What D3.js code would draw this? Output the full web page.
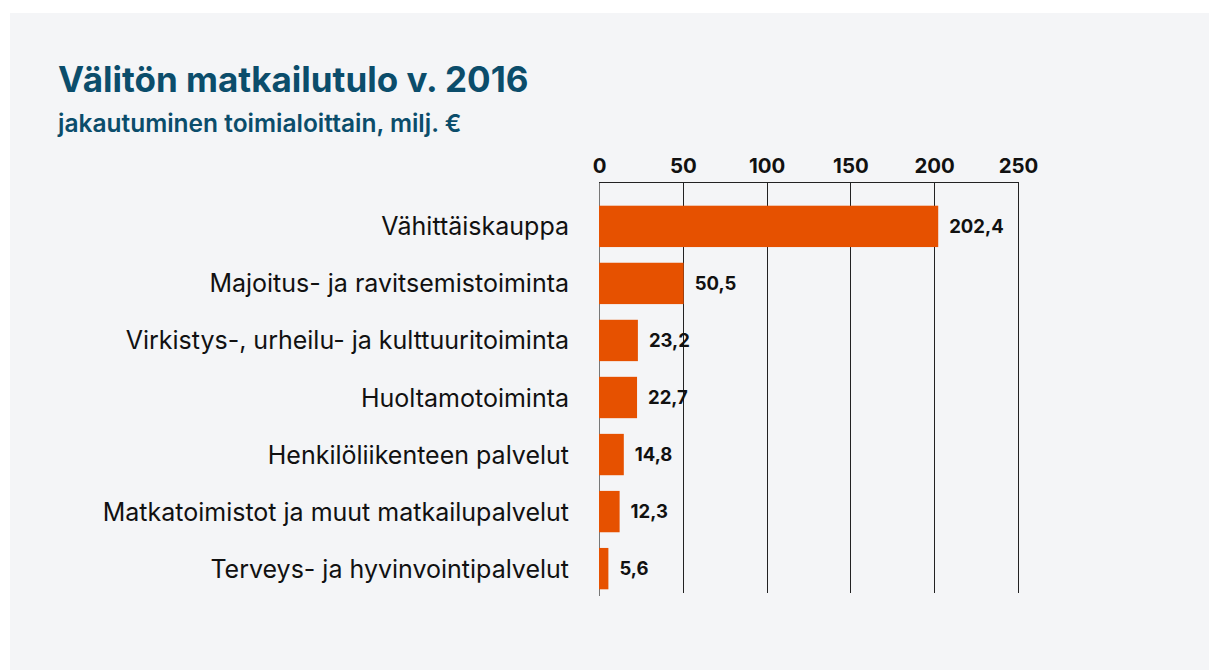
<!DOCTYPE html>
<html>
<head>
<meta charset="utf-8">
<script src="https://cdn.jsdelivr.net/npm/d3@7"></script>
<style>
  html, body { margin: 0; padding: 0; background: #ffffff; }
  svg { display: block; }
  text { font-family: Inter, "Open Sans", sans-serif; }
</style>
</head>
<body>
<script>
const categories = [
  "Vähittäiskauppa",
  "Majoitus- ja ravitsemistoiminta",
  "Virkistys-, urheilu- ja kulttuuritoiminta",
  "Huoltamotoiminta",
  "Henkilöliikenteen palvelut",
  "Matkatoimistot ja muut matkailupalvelut",
  "Terveys- ja hyvinvointipalvelut"
];
const values = [202.4, 50.5, 23.2, 22.7, 14.8, 12.3, 5.6];
const tickValues = [0, 50, 100, 150, 200, 250];
const title = "Välitön matkailutulo v. 2016";
const subtitle = "jakautuminen toimialoittain, milj. €";

const W = 1209, H = 670;
const svg = d3.select("body").append("svg").attr("width", W).attr("height", H);

svg.append("rect").attr("x", 10).attr("y", 13).attr("width", W - 10).attr("height", H - 13).attr("fill", "#f4f5f7");

svg.append("text").attr("x", 58).attr("y", 92)
  .attr("font-size", 35).attr("font-weight", 700).attr("fill", "#0b4d6b").text(title);
svg.append("text").attr("x", 58).attr("y", 132)
  .attr("font-size", 24.5).attr("font-weight", 600).attr("fill", "#0b4d6b").text(subtitle);

const x = d3.scaleLinear().domain([0, 250]).range([599, 1018]);
const y = d3.scaleBand().domain(categories).range([205.7, 589.3]).paddingInner(0.275).paddingOuter(0);
const gridTop = 182, gridBottom = 593;

svg.append("g").selectAll("line").data(tickValues).join("line")
  .attr("x1", d => Math.round(x(d)) + 0.5).attr("x2", d => Math.round(x(d)) + 0.5)
  .attr("y1", gridTop).attr("y2", d => d === 0 ? gridBottom + 3 : gridBottom)
  .attr("stroke", d => d === 0 ? "#777" : "#222").attr("stroke-width", 1);
svg.append("line").attr("x1", x(0)).attr("x2", x(250) + 1).attr("y1", gridTop + 0.5).attr("y2", gridTop + 0.5)
  .attr("stroke", "#222").attr("stroke-width", 1);

const axis = d3.axisTop(x).tickValues(tickValues).tickSize(0).tickPadding(0).tickFormat(d3.format("d"));
const gAxis = svg.append("g").attr("transform", `translate(0,${173})`).call(axis);
gAxis.select(".domain").remove();
gAxis.selectAll("text").attr("font-family", "Inter, sans-serif").attr("font-size", 20.4).attr("font-weight", 700)
  .attr("fill", "#111").attr("dy", 0);

svg.append("g").selectAll("rect").data(values).join("rect")
  .attr("x", x(0)).attr("y", (d, i) => y(categories[i]))
  .attr("width", d => x(d) - x(0)).attr("height", y.bandwidth())
  .attr("fill", "#e65100");

svg.append("g").selectAll("text").data(categories).join("text")
  .attr("x", 569).attr("y", d => y(d) + y.bandwidth() / 2).attr("dy", "0.36em")
  .attr("text-anchor", "end").attr("font-size", 25).attr("fill", "#111").text(d => d);

const fmt = d => d3.format(".1f")(d).replace(".", ",");
svg.append("g").selectAll("text").data(values).join("text")
  .attr("x", d => x(d) + 11).attr("y", (d, i) => y(categories[i]) + y.bandwidth() / 2).attr("dy", "0.36em")
  .attr("font-size", 18.5).attr("font-weight", 700).attr("fill", "#111").text(fmt);
</script>
</body>
</html>
